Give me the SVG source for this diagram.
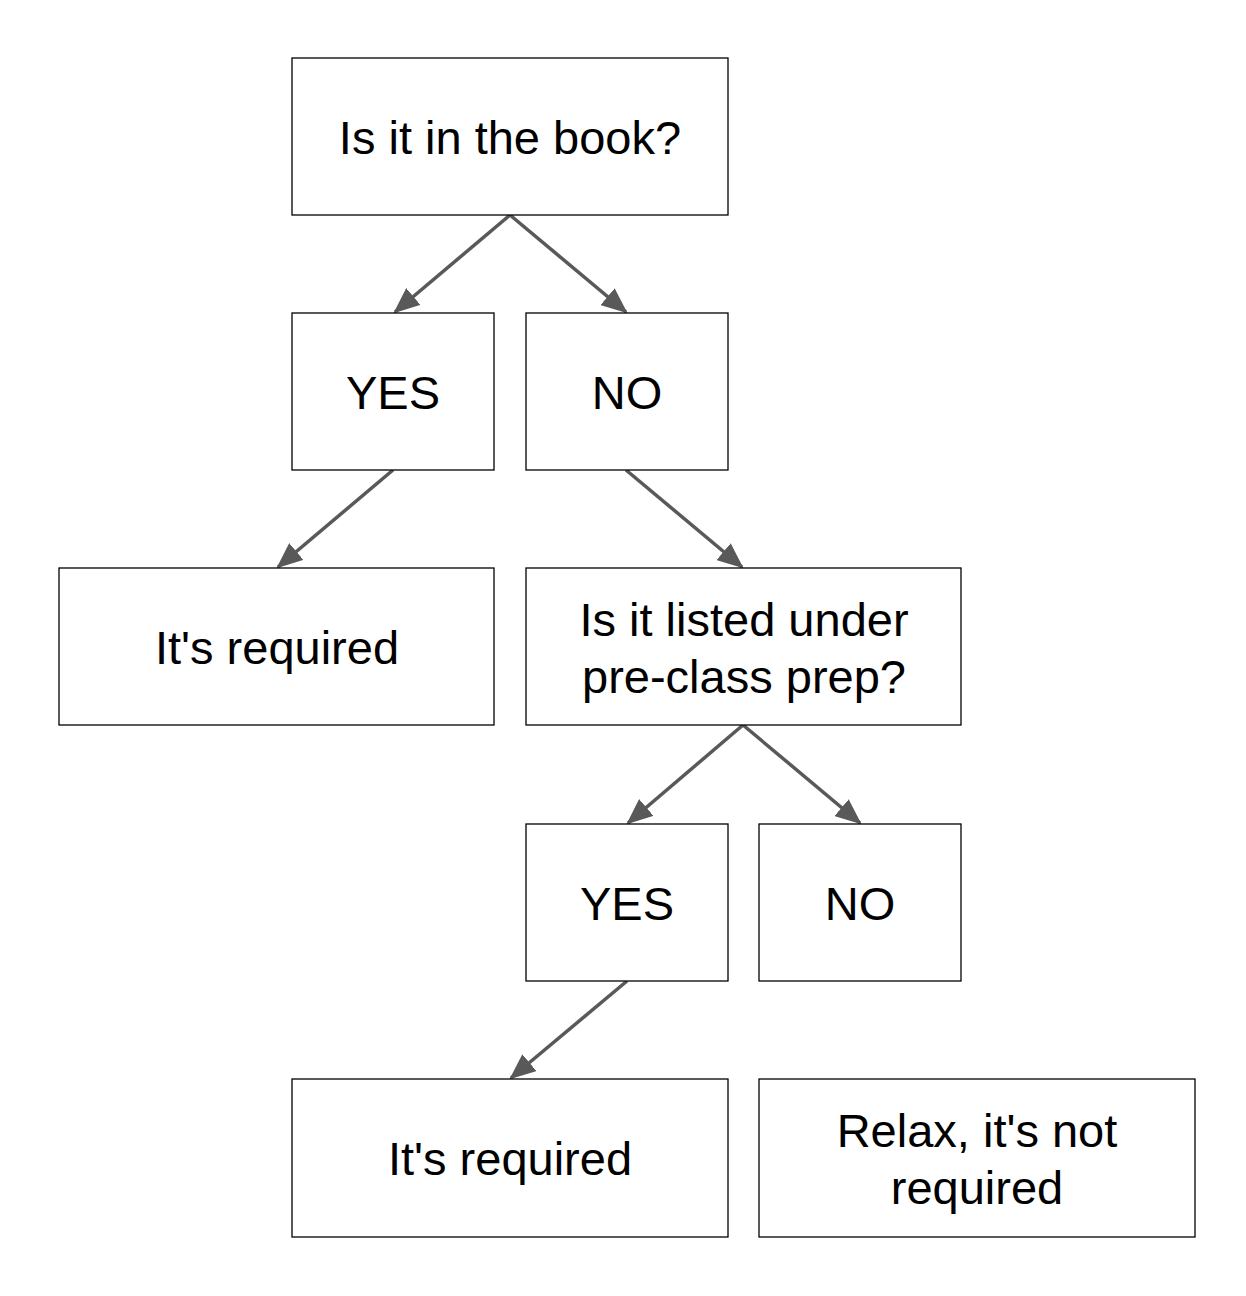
<svg xmlns="http://www.w3.org/2000/svg" width="1246" height="1296" viewBox="0 0 1246 1296">
<style>
.box{fill:#fff;stroke:#000;stroke-width:1.3}
.t{font-family:"Liberation Sans",Arial,sans-serif;font-size:47px;fill:#000;text-anchor:middle}
.c{stroke:#595959;stroke-width:3.5;fill:none;marker-end:url(#ah)}
</style>
<defs>
<marker id="ah" markerUnits="userSpaceOnUse" markerWidth="26" markerHeight="22" refX="24" refY="11" orient="auto" viewBox="0 0 26 22">
<path d="M0,0 L26,11 L0,22 Z" fill="#595959"/>
</marker>
</defs>
<rect width="1246" height="1296" fill="#fff"/>
<g id="connectors">
<line class="c" x1="510" y1="215" x2="395" y2="312"/>
<line class="c" x1="510" y1="215" x2="626" y2="312"/>
<line class="c" x1="393" y1="470" x2="278" y2="567"/>
<line class="c" x1="626" y1="470" x2="742" y2="567"/>
<line class="c" x1="743" y1="725" x2="628" y2="823"/>
<line class="c" x1="743" y1="725" x2="860" y2="823"/>
<line class="c" x1="627" y1="981" x2="511" y2="1078"/>
</g>
<g id="q1"><rect class="box" x="292" y="58" width="436" height="157"/><text class="t" x="510" y="154">Is it in the book?</text></g>
<g id="yes1"><rect class="box" x="292" y="313" width="202" height="157"/><text class="t" x="393" y="409">YES</text></g>
<g id="no1"><rect class="box" x="526" y="313" width="202" height="157"/><text class="t" x="627" y="409">NO</text></g>
<g id="req1"><rect class="box" x="59" y="568" width="435" height="157"/><text class="t" x="277" y="664">It's required</text></g>
<g id="q2"><rect class="box" x="526" y="568" width="435" height="157"/><text class="t" x="744" y="636">Is it listed under</text><text class="t" x="744" y="693">pre-class prep?</text></g>
<g id="yes2"><rect class="box" x="526" y="824" width="202" height="157"/><text class="t" x="627" y="920">YES</text></g>
<g id="no2"><rect class="box" x="759" y="824" width="202" height="157"/><text class="t" x="860" y="920">NO</text></g>
<g id="req2"><rect class="box" x="292" y="1079" width="436" height="158"/><text class="t" x="510" y="1175">It's required</text></g>
<g id="relax"><rect class="box" x="759" y="1079" width="436" height="158"/><text class="t" x="977" y="1147">Relax, it's not</text><text class="t" x="977" y="1204">required</text></g>
</svg>
